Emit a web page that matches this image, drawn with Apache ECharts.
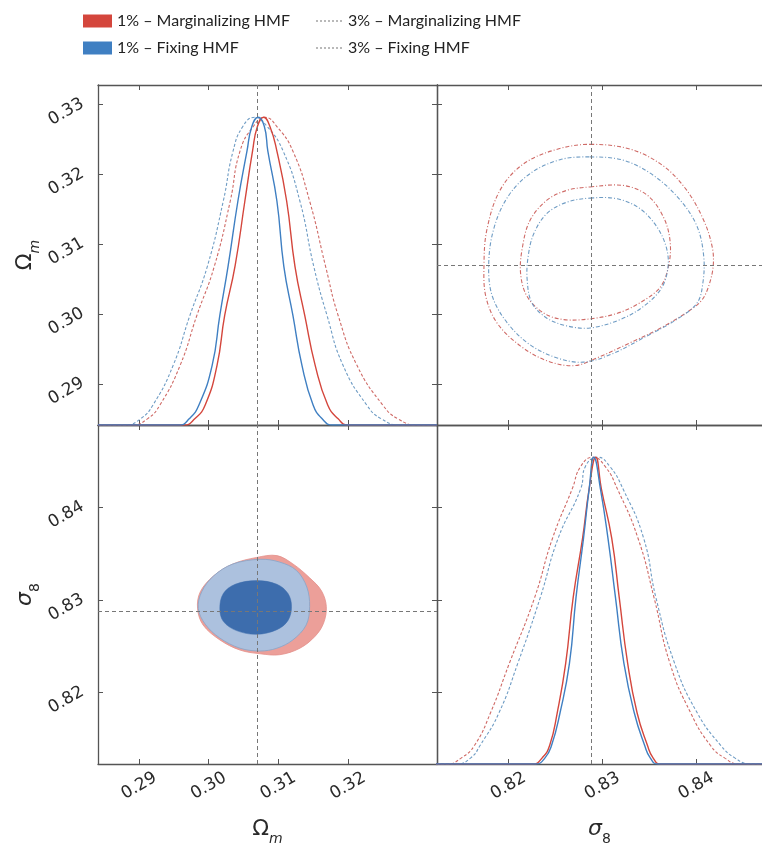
<!DOCTYPE html>
<html><head><meta charset="utf-8">
<script src="https://cdn.jsdelivr.net/npm/echarts@6/dist/echarts.min.js"></script>
<style>html,body{margin:0;padding:0;background:#fff}#c{width:762px;height:847px}</style>
</head><body><div id="c"></div>
<script>
// ---------- data ----------
const seriesNames = ['1% \u2013 Marginalizing HMF', '1% \u2013 Fixing HMF', '3% \u2013 Marginalizing HMF', '3% \u2013 Fixing HMF'];
const omRange = [0.2841, 0.3328];
const s8Range = [0.8123, 0.8489];     // vertical sigma_8 range
const s8XRange = [0.8124, 0.8470];    // horizontal sigma_8 range (panel cut at the right edge)
const densRange = [0, 1.105];
const omXTicks = [0.29, 0.30, 0.31, 0.32];
const omYTicks = [0.29, 0.30, 0.31, 0.32, 0.33];
const s8Ticks = [0.82, 0.83, 0.84];
const fiducialOm = 0.307;
const fiducialS8 = 0.8288;

// 1D posteriors of Omega_m  [Omega_m, normalized density]
const omPdfMarg1 = [[0.2841,0],[0.2965,0],[0.2980,0.02],[0.2995,0.065],[0.3012,0.194],[0.3023,0.356],[0.3038,0.518],[0.3052,0.728],[0.3063,0.89],[0.3070,0.97],[0.3079,1.0],[0.3088,0.97],[0.3098,0.89],[0.3112,0.728],[0.3124,0.515],[0.3138,0.356],[0.3153,0.194],[0.3171,0.065],[0.3186,0.02],[0.3200,0],[0.3328,0]];
const omPdfFix1 = [[0.2841,0],[0.2958,0],[0.2972,0.02],[0.2986,0.065],[0.3005,0.194],[0.3016,0.356],[0.3028,0.518],[0.3042,0.728],[0.3055,0.89],[0.3062,0.97],[0.3071,1.0],[0.3080,0.97],[0.3085,0.89],[0.3098,0.728],[0.3108,0.515],[0.3121,0.356],[0.3134,0.194],[0.3150,0.065],[0.3163,0.02],[0.3178,0],[0.3328,0]];
const omPdfMarg3 = [[0.2841,0],[0.2890,0],[0.2912,0.02],[0.2930,0.065],[0.2959,0.194],[0.2983,0.356],[0.3008,0.515],[0.3031,0.728],[0.3045,0.89],[0.3064,0.97],[0.3081,1.0],[0.3098,0.97],[0.3121,0.89],[0.3145,0.728],[0.3168,0.515],[0.3186,0.356],[0.3213,0.194],[0.3250,0.065],[0.3272,0.02],[0.3300,0],[0.3328,0]];
const omPdfFix3 = [[0.2841,0],[0.2880,0],[0.2902,0.02],[0.2920,0.065],[0.2949,0.194],[0.2973,0.356],[0.2998,0.515],[0.3021,0.728],[0.3035,0.89],[0.3049,0.97],[0.3066,1.0],[0.3084,0.97],[0.3107,0.89],[0.3131,0.728],[0.3151,0.515],[0.3170,0.356],[0.3193,0.194],[0.3227,0.065],[0.3248,0.02],[0.3275,0],[0.3328,0]];

// 1D posteriors of sigma_8  [sigma_8, normalized density]
const s8PdfMarg1 = [[0.8123,0],[0.8226,0],[0.8236,0.02],[0.8244,0.061],[0.8252,0.167],[0.8261,0.328],[0.8269,0.543],[0.8279,0.736],[0.8286,0.897],[0.8293,1.0],[0.8299,0.897],[0.8310,0.736],[0.8318,0.543],[0.8327,0.328],[0.8337,0.167],[0.8348,0.061],[0.8354,0.02],[0.8362,0],[0.8489,0]];
const s8PdfFix1 = [[0.8123,0],[0.8229,0],[0.8239,0.02],[0.8246,0.061],[0.8255,0.167],[0.8265,0.328],[0.8272,0.543],[0.8280,0.736],[0.8286,0.897],[0.8291,1.0],[0.8298,0.897],[0.8306,0.736],[0.8314,0.543],[0.8323,0.328],[0.8334,0.167],[0.8345,0.061],[0.8351,0.02],[0.8359,0],[0.8489,0]];
const s8PdfMarg3 = [[0.8123,0],[0.8135,0],[0.8150,0.02],[0.8164,0.061],[0.8181,0.167],[0.8201,0.328],[0.8228,0.543],[0.8247,0.736],[0.8268,0.897],[0.8277,0.97],[0.8290,1.0],[0.8303,0.97],[0.8316,0.897],[0.8338,0.736],[0.8355,0.543],[0.8372,0.328],[0.8394,0.167],[0.8415,0.061],[0.8430,0.02],[0.8446,0],[0.8489,0]];
const s8PdfFix3 = [[0.8123,0],[0.8145,0],[0.8160,0.02],[0.8170,0.061],[0.8190,0.167],[0.8210,0.328],[0.8234,0.543],[0.8253,0.736],[0.8277,0.897],[0.8282,0.97],[0.8295,1.0],[0.8308,0.97],[0.8322,0.897],[0.8344,0.736],[0.8357,0.543],[0.8377,0.328],[0.8401,0.167],[0.8426,0.061],[0.8441,0.02],[0.8458,0],[0.8489,0]];

// 3% contours in the (sigma_8, Omega_m) panel
const ctrMarg3Outer = [[0.8287,0.3243],[0.8330,0.3236],[0.8365,0.3212],[0.8390,0.3177],[0.8408,0.3134],[0.8417,0.3096],[0.8418,0.3068],[0.8413,0.3039],[0.8406,0.3020],[0.8394,0.3006],[0.8365,0.2982],[0.8330,0.2959],[0.8294,0.2937],[0.8270,0.2926],[0.8241,0.2933],[0.8213,0.2954],[0.8188,0.2987],[0.8176,0.3025],[0.8174,0.3068],[0.8177,0.3120],[0.8191,0.3177],[0.8216,0.3215],[0.8252,0.3236]];
const ctrFix3Outer = [[0.8287,0.3225],[0.8323,0.3220],[0.8355,0.3198],[0.8383,0.3163],[0.8401,0.3125],[0.8408,0.3082],[0.8407,0.3044],[0.8401,0.3016],[0.8379,0.2992],[0.8344,0.2966],[0.8309,0.2942],[0.8280,0.2931],[0.8252,0.2937],[0.8223,0.2956],[0.8199,0.2987],[0.8183,0.3025],[0.8179,0.3068],[0.8184,0.3120],[0.8199,0.3167],[0.8223,0.3201],[0.8255,0.3221]];
const ctrMarg3Inner = [[0.8287,0.3182],[0.8323,0.3184],[0.8348,0.3170],[0.8365,0.3139],[0.8372,0.3106],[0.8371,0.3072],[0.8362,0.3039],[0.8340,0.3016],[0.8316,0.3001],[0.8287,0.2993],[0.8259,0.2992],[0.8238,0.3001],[0.8220,0.3025],[0.8213,0.3058],[0.8215,0.3096],[0.8223,0.3134],[0.8241,0.3163],[0.8262,0.3177]];
const ctrFix3Inner = [[0.8287,0.3166],[0.8316,0.3165],[0.8340,0.3151],[0.8358,0.3125],[0.8368,0.3096],[0.8370,0.3068],[0.8363,0.3037],[0.8344,0.3011],[0.8319,0.2992],[0.8287,0.2980],[0.8262,0.2983],[0.8241,0.2994],[0.8225,0.3016],[0.8220,0.3049],[0.8221,0.3082],[0.8227,0.3115],[0.8241,0.3144],[0.8262,0.3160]];

// 1% filled contours in the (Omega_m, sigma_8) panel
const fillMarg1Outer = [[0.3069,0.8346],[0.3098,0.8348],[0.3121,0.8339],[0.3145,0.8324],[0.3162,0.8310],[0.3169,0.8293],[0.3165,0.8275],[0.3153,0.8261],[0.3131,0.8248],[0.3102,0.8241],[0.3074,0.8242],[0.3045,0.8246],[0.3016,0.8257],[0.2992,0.8273],[0.2984,0.8291],[0.2988,0.8309],[0.3007,0.8326],[0.3035,0.8339]];
const fillFix1Outer = [[0.3074,0.8344],[0.3102,0.8341],[0.3126,0.8332],[0.3141,0.8314],[0.3145,0.8293],[0.3140,0.8273],[0.3121,0.8257],[0.3098,0.8248],[0.3074,0.8245],[0.3045,0.8248],[0.3016,0.8259],[0.2995,0.8274],[0.2985,0.8291],[0.2990,0.8309],[0.3007,0.8326],[0.3035,0.8339]];
const fillFix1Inner = [[0.3069,0.8321],[0.3098,0.8317],[0.3114,0.8307],[0.3119,0.8293],[0.3114,0.8278],[0.3098,0.8268],[0.3069,0.8263],[0.3040,0.8267],[0.3021,0.8277],[0.3016,0.8291],[0.3021,0.8307],[0.3038,0.8317]];

// ---------- styling ----------
const C = {
  redSolid: '#d4463c', blueSolid: '#3f7fc2',
  redDash: '#cf6a66', blueDash: '#6f9cc4',
  redFill: '#ec9f99', blueFillOuter: '#acc1de', blueFillInner: '#3d6dad',
  frame: '#555', tick: '#555', text: '#2a2a2a', cross: '#777'
};
const G = [
  {left: 98, top: 85, width: 339, height: 340},
  {left: 437, top: 85, width: 325, height: 340},
  {left: 98, top: 425, width: 339, height: 344},
  {left: 437, top: 425, width: 325, height: 344}
];
const tickFont = {fontFamily: 'DejaVu Sans', fontSize: 17, color: C.text};
const nameRich = {
  g: {fontFamily: 'DejaVu Sans', fontSize: 22, color: C.text, padding: [0, 0, 6, 0], verticalAlign: 'bottom'},
  gi: {fontFamily: 'DejaVu Sans', fontSize: 22, color: C.text, fontStyle: 'italic', padding: [0, 0, 6, 0], verticalAlign: 'bottom'},
  si: {fontFamily: 'DejaVu Sans', fontSize: 14, color: C.text, fontStyle: 'italic', verticalAlign: 'bottom'},
  s: {fontFamily: 'DejaVu Sans', fontSize: 14, color: C.text, verticalAlign: 'bottom'}
};
const omName = '{g|\u03A9}{si|m}';
const s8Name = '{gi|\u03C3}{s|8}';

function axis(gridIndex, position, range, ticks, extra, noFrame) {
  const a = {
    type: 'value', gridIndex, position, min: range[0], max: range[1],
    axisLine: {show: !noFrame, lineStyle: {color: C.frame, width: 1.3}}, splitLine: {show: false},
    axisTick: {show: !noFrame, inside: true, length: 5, customValues: ticks, lineStyle: {color: C.tick, width: 1}},
    axisLabel: {show: false}
  };
  return Object.assign(a, extra || {});
}
function labelled(ticks, isY) {
  return {
    show: true, customValues: ticks, rotate: 30, align: 'center',
    verticalAlign: isY ? 'top' : 'middle', margin: isY ? 36 : 22,
    formatter: v => v.toFixed(2), ...tickFont
  };
}

const xAxis = [
  axis(0, 'bottom', omRange, omXTicks),
  axis(0, 'top', omRange, omXTicks),
  axis(1, 'bottom', s8XRange, s8Ticks),
  axis(1, 'top', s8XRange, s8Ticks),
  axis(2, 'bottom', omRange, omXTicks, {axisLabel: labelled(omXTicks, false), name: omName, nameLocation: 'middle', nameGap: 54, nameTextStyle: {rich: nameRich}}),
  axis(2, 'top', omRange, omXTicks),
  axis(3, 'bottom', s8XRange, s8Ticks, {axisLabel: labelled(s8Ticks, false), name: s8Name, nameLocation: 'middle', nameGap: 54, nameTextStyle: {rich: nameRich}}),
  axis(3, 'top', s8XRange, s8Ticks)
];
const yAxis = [
  axis(0, 'left', omRange, omYTicks, {axisLabel: labelled(omYTicks, true), name: omName, nameLocation: 'middle', nameGap: 47, nameTextStyle: {rich: nameRich}}),
  axis(0, 'right', omRange, omYTicks),
  {type: 'value', gridIndex: 0, min: densRange[0], max: densRange[1], show: false},
  axis(1, 'left', omRange, omYTicks),
  axis(1, 'right', omRange, omYTicks, null, true),
  axis(2, 'left', s8Range, s8Ticks, {axisLabel: labelled(s8Ticks, true), name: s8Name, nameLocation: 'middle', nameGap: 39, nameTextStyle: {rich: nameRich}}),
  axis(2, 'right', s8Range, s8Ticks),
  axis(3, 'left', s8Range, s8Ticks),
  axis(3, 'right', s8Range, s8Ticks, null, true),
  {type: 'value', gridIndex: 3, min: densRange[0], max: densRange[1], show: false}
];

const crossStyle = {color: C.cross, width: 1, type: [4, 3]};
function cross(items) {
  return {silent: true, symbol: 'none', precision: 5, label: {show: false}, lineStyle: crossStyle, data: items};
}
function pdfLine(name, data, xi, yi, color, dashed, z, mark) {
  const s = {
    type: 'line', name, data, xAxisIndex: xi, yAxisIndex: yi, smooth: 0.5,
    showSymbol: false, symbol: 'none', silent: true, z,
    lineStyle: {color, width: dashed ? 1.1 : 1.4, type: dashed ? [3, 2] : 'solid'},
    itemStyle: {color}
  };
  if (mark) s.markLine = mark;
  return s;
}
function poly(name, pts, xi, yi, style, z, mark) {
  const s = {
    type: 'custom', name, xAxisIndex: xi, yAxisIndex: yi, silent: true, z,
    data: pts, encode: {x: 0, y: 1}, clip: true,
    renderItem: function (params, api) {
      if (params.dataIndex !== 0) return null;
      const points = pts.map(p => api.coord(p));
      return {type: 'polygon', shape: {points, smooth: 0.35}, style: Object.assign({}, style)};
    }
  };
  if (mark) s.markLine = mark;
  return s;
}
const dashCtr = c => ({fill: 'none', stroke: c, lineWidth: 1.1, lineDash: [4, 2, 1, 2]});

const series = [
  // top-left: Omega_m 1D
  pdfLine(seriesNames[2], omPdfMarg3, 0, 2, C.redDash, true, 3, cross([{xAxis: fiducialOm}])),
  pdfLine(seriesNames[3], omPdfFix3, 0, 2, C.blueDash, true, 3),
  pdfLine(seriesNames[0], omPdfMarg1, 0, 2, C.redSolid, false, 4),
  pdfLine(seriesNames[1], omPdfFix1, 0, 2, C.blueSolid, false, 4),
  // bottom-right: sigma_8 1D
  pdfLine(seriesNames[2], s8PdfMarg3, 6, 9, C.redDash, true, 3, cross([{xAxis: fiducialS8}])),
  pdfLine(seriesNames[3], s8PdfFix3, 6, 9, C.blueDash, true, 3),
  pdfLine(seriesNames[0], s8PdfMarg1, 6, 9, C.redSolid, false, 4),
  pdfLine(seriesNames[1], s8PdfFix1, 6, 9, C.blueSolid, false, 4),
  // top-right: 3% contours
  poly(seriesNames[2], ctrMarg3Outer, 2, 3, dashCtr(C.redDash), 3, cross([{xAxis: fiducialS8}, {yAxis: fiducialOm}])),
  poly(seriesNames[3], ctrFix3Outer, 2, 3, dashCtr(C.blueDash), 3),
  poly(seriesNames[2], ctrMarg3Inner, 2, 3, dashCtr(C.redDash), 3),
  poly(seriesNames[3], ctrFix3Inner, 2, 3, dashCtr(C.blueDash), 3),
  // bottom-left: 1% filled contours
  poly(seriesNames[0], fillMarg1Outer, 4, 5, {fill: C.redFill, stroke: '#e3918b', lineWidth: 0.8}, 2),
  poly(seriesNames[1], fillFix1Outer, 4, 5, {fill: C.blueFillOuter, stroke: '#93a8c8', lineWidth: 1}, 2),
  poly(seriesNames[1], fillFix1Inner, 4, 5, {fill: C.blueFillInner, stroke: C.blueFillInner, lineWidth: 0.5}, 2,
       cross([{xAxis: fiducialOm}, {yAxis: fiducialS8}]))
];

const legendText = {fontFamily: 'Lato', fontSize: 16, color: '#222'};
const dotIcon = 'path://M0,0h2v2h-2zM4,0h2v2h-2zM8,0h2v2h-2zM12,0h2v2h-2zM16,0h2v2h-2zM20,0h2v2h-2zM24,0h2v2h-2z';
const option = {
  backgroundColor: '#fff',
  animation: false,
  grid: G.map(g => Object.assign({show: false, containLabel: false}, g)),
  xAxis, yAxis, series,
  legend: [
    {left: 78, top: 8, orient: 'vertical', itemWidth: 29, itemHeight: 13, itemGap: 11, selectedMode: false, textStyle: legendText,
     data: [{name: seriesNames[0], icon: 'rect', itemStyle: {color: C.redSolid}},
            {name: seriesNames[1], icon: 'rect', itemStyle: {color: C.blueSolid}}]},
    {left: 311, top: 8, orient: 'vertical', itemWidth: 28, itemHeight: 2, itemGap: 11, selectedMode: false, textStyle: legendText,
     data: [{name: seriesNames[2], icon: dotIcon, itemStyle: {color: '#b9b9b9'}},
            {name: seriesNames[3], icon: dotIcon, itemStyle: {color: '#b9b9b9'}}]}
  ]
};
const chart = echarts.init(document.getElementById('c'), null, {renderer: 'canvas'});
chart.setOption(option);
</script></body></html>
